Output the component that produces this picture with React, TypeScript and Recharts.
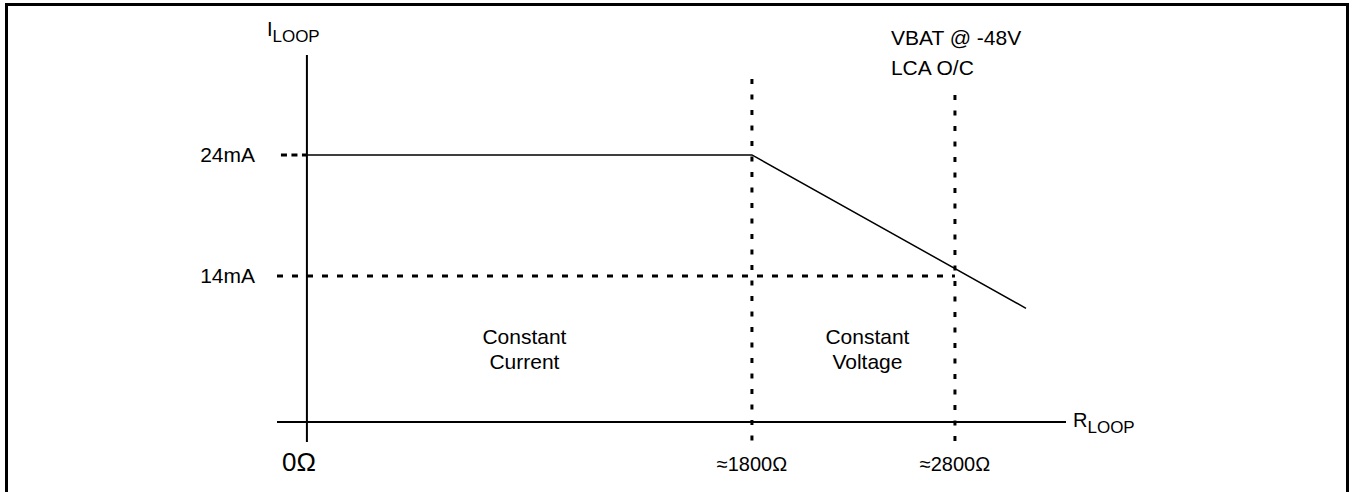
import { LineChart, Line, XAxis, YAxis, ReferenceLine, ReferenceArea } from 'recharts';

const FONT = '"Liberation Sans", Arial, Helvetica, sans-serif';

// R_LOOP axis (ohms)
const resistanceTicks = [0, 1800, 2800];
const resistanceLabels = ['0Ω', '≈1800Ω', '≈2800Ω'];
const resistanceDomain = [-121, 3347];

// I_LOOP axis (mA)
const currentTicks = [14, 24];
const currentLabels = ['14mA', '24mA'];
const currentDomain = [-1.92, 32.26];

// loop current vs loop resistance
const loopResistance = [0, 1800, 3150];
const loopCurrent = [24, 24, 10.9];

// the drawing is a sketch, not to scale: value -> relative distance along the axis
const resistanceKnots = [[0, 0], [1800, 445], [2800, 648]];
const currentKnots = [[0, 0], [14, 146], [24, 267]];

const chartData = loopResistance.map((r, i) => ({ r, i: loopCurrent[i] }));

// piecewise linear scale with the d3 scale interface recharts expects
function knotScale(knots: number[][]) {
  const n = knots.length;
  const warp = (v: number) => {
    let k = 0;
    if (v >= knots[n - 1][0]) k = n - 2;
    else while (k < n - 2 && v > knots[k + 1][0]) k++;
    const [a0, b0] = knots[k];
    const [a1, b1] = knots[k + 1];
    return b0 + ((v - a0) * (b1 - b0)) / (a1 - a0);
  };
  const unwarp = (u: number) => {
    let k = 0;
    if (u >= knots[n - 1][1]) k = n - 2;
    else while (k < n - 2 && u > knots[k + 1][1]) k++;
    const [a0, b0] = knots[k];
    const [a1, b1] = knots[k + 1];
    return a0 + ((u - b0) * (a1 - a0)) / (b1 - b0);
  };
  const make = (dom: number[], rng: number[]) => {
    let d = dom.slice();
    let r = rng.slice();
    const s: any = (v: number) => {
      const u0 = warp(d[0]);
      const u1 = warp(d[d.length - 1]);
      return r[0] + ((warp(Number(v)) - u0) / (u1 - u0)) * (r[r.length - 1] - r[0]);
    };
    s.domain = (x?: number[]) => {
      if (x === undefined) return d.slice();
      d = x.map(Number);
      return s;
    };
    s.range = (x?: number[]) => {
      if (x === undefined) return r.slice();
      r = x.map(Number);
      return s;
    };
    s.invert = (p: number) => {
      const u0 = warp(d[0]);
      const u1 = warp(d[d.length - 1]);
      return unwarp(u0 + ((p - r[0]) / (r[r.length - 1] - r[0])) * (u1 - u0));
    };
    s.ticks = () => d.slice();
    s.tickFormat = () => (v: number) => String(v);
    s.copy = () => make(d, r);
    return s;
  };
  return make([0, 1], [0, 1]);
}

const xScale = knotScale(resistanceKnots);
const yScale = knotScale(currentKnots);

const ResistanceTick = ({ x, y, payload }: any) => {
  const idx = resistanceTicks.indexOf(payload.value);
  const origin = payload.value === 0;
  return (
    <text
      x={x + (origin ? -8 : 0)}
      y={y + 29}
      textAnchor="middle"
      fontSize={origin ? 26 : 20}
      fontFamily={FONT}
      fill="#000"
    >
      {resistanceLabels[idx]}
    </text>
  );
};

const CurrentTick = ({ x, y, payload }: any) => {
  const idx = currentTicks.indexOf(payload.value);
  return (
    <text x={x} y={y + 7} textAnchor="end" fontSize={21} fontFamily={FONT} fill="#000">
      {currentLabels[idx]}
    </text>
  );
};

const AxisName = ({ viewBox, main, sub, atEnd, dx, dy }: any) => {
  const x0 = atEnd ? viewBox.x + viewBox.width : viewBox.x;
  return (
    <text x={x0 + dx} y={viewBox.y + dy} fontSize={20} fontFamily={FONT} fill="#000">
      {main}
      <tspan fontSize={17} dy={6}>
        {sub}
      </tspan>
    </text>
  );
};

const RegionLabel = ({ viewBox, lines, dx }: any) => {
  const cx = viewBox.x + viewBox.width / 2 + dx;
  const cy = viewBox.y + viewBox.height / 2;
  return (
    <text textAnchor="middle" fontSize={21} fontFamily={FONT} fill="#000">
      <tspan x={cx} y={cy - 5}>{lines[0]}</tspan>
      <tspan x={cx} y={cy + 20}>{lines[1]}</tspan>
    </text>
  );
};

const NoteLabel = ({ viewBox, lines }: any) => (
  <text fontSize={21} fontFamily={FONT} fill="#000">
    <tspan x={viewBox.x - 64} y={viewBox.y - 50}>{lines[0]}</tspan>
    <tspan x={viewBox.x - 64} y={viewBox.y - 20}>{lines[1]}</tspan>
  </text>
);

export default function App() {
  return (
    <div style={{ position: 'absolute', left: 0, top: 0, width: 1355, height: 492, background: '#fff', overflow: 'hidden' }}>
      <div
        style={{
          position: 'absolute',
          left: 5,
          top: 3,
          width: 1344,
          height: 520,
          boxSizing: 'border-box',
          borderTop: '3px solid #000',
          borderLeft: '3px solid #000',
          borderRight: '3px solid #000',
        }}
      />
      <div style={{ position: 'absolute', left: 0, top: 0 }}>
        <LineChart width={1355} height={492} data={chartData} margin={{ top: 55, right: 289, bottom: 20, left: 0 }}>
          <XAxis
            dataKey="r"
            type="number"
            scale={xScale}
            domain={resistanceDomain}
            allowDataOverflow
            ticks={resistanceTicks}
            axisLine={false}
            tickLine={false}
            tickSize={0}
            tickMargin={0}
            height={30}
            tick={<ResistanceTick />}
            interval={0}
          />
          <YAxis
            dataKey="i"
            type="number"
            scale={yScale}
            domain={currentDomain}
            allowDataOverflow
            ticks={currentTicks}
            axisLine={false}
            tickLine={false}
            tickSize={0}
            tickMargin={22}
            width={277}
            tick={<CurrentTick />}
            interval={0}
          />
          {/* axes drawn through the origin */}
          <ReferenceLine
            x={0}
            stroke="#000"
            strokeWidth={2}
            label={<AxisName main="I" sub="LOOP" dx={-40} dy={-19} />}
          />
          <ReferenceLine
            y={0}
            stroke="#000"
            strokeWidth={2}
            label={<AxisName main="R" sub="LOOP" atEnd dx={7} dy={5} />}
          />
          {/* guide lines */}
          <ReferenceLine
            segment={[{ x: -105, y: 24 }, { x: 0, y: 24 }]}
            stroke="#000"
            strokeWidth={3}
            strokeDasharray="6 4.5"
            ifOverflow="visible"
          />
          <ReferenceLine
            segment={[{ x: resistanceDomain[0], y: 14 }, { x: 2800, y: 14 }]}
            stroke="#000"
            strokeWidth={3}
            strokeDasharray="6 9"
            ifOverflow="visible"
          />
          <ReferenceLine
            segment={[{ x: 1800, y: 30.28 }, { x: 1800, y: -2.68 }]}
            stroke="#000"
            strokeWidth={3}
            strokeDasharray="5 10.5"
            ifOverflow="visible"
          />
          <ReferenceLine
            segment={[{ x: 2800, y: 28.96 }, { x: 2800, y: currentDomain[0] }]}
            stroke="#000"
            strokeWidth={3}
            strokeDasharray="5 10.5"
            ifOverflow="visible"
            label={<NoteLabel lines={['VBAT @ -48V', 'LCA O/C']} />}
          />
          <ReferenceArea
            x1={0}
            x2={1800}
            y1={0}
            y2={14}
            fill="none"
            stroke="none"
            label={<RegionLabel lines={['Constant', 'Current']} dx={-5} />}
          />
          <ReferenceArea
            x1={1800}
            x2={2800}
            y1={0}
            y2={14}
            fill="none"
            stroke="none"
            label={<RegionLabel lines={['Constant', 'Voltage']} dx={14} />}
          />
          <Line
            dataKey="i"
            type="linear"
            stroke="#000"
            strokeWidth={1.5}
            dot={false}
            activeDot={false}
            isAnimationActive={false}
          />
        </LineChart>
      </div>
    </div>
  );
}
